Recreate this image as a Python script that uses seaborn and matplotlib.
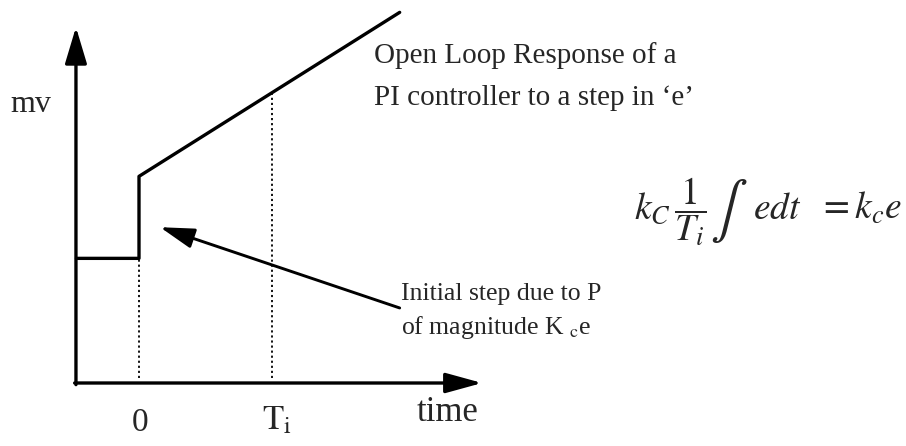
import numpy as np
import pandas as pd
import matplotlib
matplotlib.use("Agg")
import matplotlib.pyplot as plt
import seaborn as sns

# ---- data (time in units of Ti, mv in units of Kc*e) ----
time_pts = [-0.47, 0.0, 0.0, 1.96]
mv_pts = [1.52, 1.52, 2.52, 4.52]
marker_times = [0.0, 1.0]          # dotted guides at 0 and Ti
marker_labels = ["0", r"$\mathrm{T}_\mathrm{i}$"]
axis_origin = (-0.474, 0.0)
axis_ends = (2.58, 4.34)
note_from = (1.96, 0.915)
note_to = (0.158, 1.90)

sns.set_style("white")
plt.rcParams["font.family"] = ["Liberation Serif", "DejaVu Serif"]
plt.rcParams["mathtext.fontset"] = "stix"

W, H = 906, 446
fig = plt.figure(figsize=(W / 100, H / 100), dpi=100)
ax = fig.add_axes([0, 0, 1, 1])
ax.set_xlim(-139 / 133, (W - 139) / 133)
ax.set_ylim((383 - H) / 82, 383 / 82)
ax.axis("off")

def P(x, y):
    return (x / W, 1 - y / H)

df = pd.DataFrame({"time": time_pts, "mv": mv_pts})
sns.lineplot(data=df, x="time", y="mv", sort=False, color="black", lw=2.4,
             ax=ax, estimator=None)

# axes with arrows
ox, oy = axis_origin
ax.annotate("", xy=(ox, axis_ends[1]), xytext=(ox, oy - 0.02),
            arrowprops=dict(arrowstyle="-|>,head_length=0.8,head_width=0.24",
                            mutation_scale=28, color="black", lw=2.4,
                            shrinkA=0, shrinkB=0))
ax.annotate("", xy=(axis_ends[0], oy), xytext=(ox - 0.01, oy),
            arrowprops=dict(arrowstyle="-|>,head_length=0.8,head_width=0.22",
                            mutation_scale=28, color="black", lw=2.4,
                            shrinkA=0, shrinkB=0))

# dotted guides
for t in marker_times:
    top = np.interp(t, time_pts[2:], mv_pts[2:]) if t > 0 else mv_pts[1]
    ax.plot([t, t], [0.06, top], color="black", lw=1.3,
            linestyle=(0, (1.2, 1.6)))

# annotation arrow
ax.annotate("", xy=note_to, xytext=note_from,
            arrowprops=dict(arrowstyle="-|>,head_length=0.75,head_width=0.22",
                            mutation_scale=28, color="black", lw=2.1,
                            shrinkA=0, shrinkB=0))

# texts
fig.text(*P(10, 112), "mv", fontsize=23, ha="left", va="baseline")
fig.text(*P(140, 431), marker_labels[0], fontsize=24, ha="center", va="baseline")
fig.text(*P(262, 429), marker_labels[1], fontsize=25, ha="left", va="baseline")
fig.text(*P(417, 421), "time", fontsize=25, ha="left", va="baseline")
fig.text(*P(374, 63), "Open Loop Response of a", fontsize=21, ha="left", va="baseline")
fig.text(*P(374, 105), "PI controller to a step in \u2018e\u2019", fontsize=21,
         ha="left", va="baseline")
fig.text(*P(401, 300), "Initial step due to P", fontsize=18.5, ha="left", va="baseline")
fig.text(*P(401, 334), r"of magnitude K ${}_{\rm c}$e", fontsize=18.5,
         ha="left", va="baseline")

# formula, assembled from pieces
fig.text(*P(634, 219), r"$k_C\,\dfrac{1}{T_i}$", fontsize=27, ha="left", va="baseline")
fig.text(*P(729, 211), r"$\int$", fontsize=40, ha="center", va="center")
fig.text(*P(753, 219), r"$edt$", fontsize=27, ha="left", va="baseline")
fig.text(*P(818, 219), r"$=k_c e$", fontsize=27, ha="left", va="baseline")

fig.savefig("out.png", dpi=100)
